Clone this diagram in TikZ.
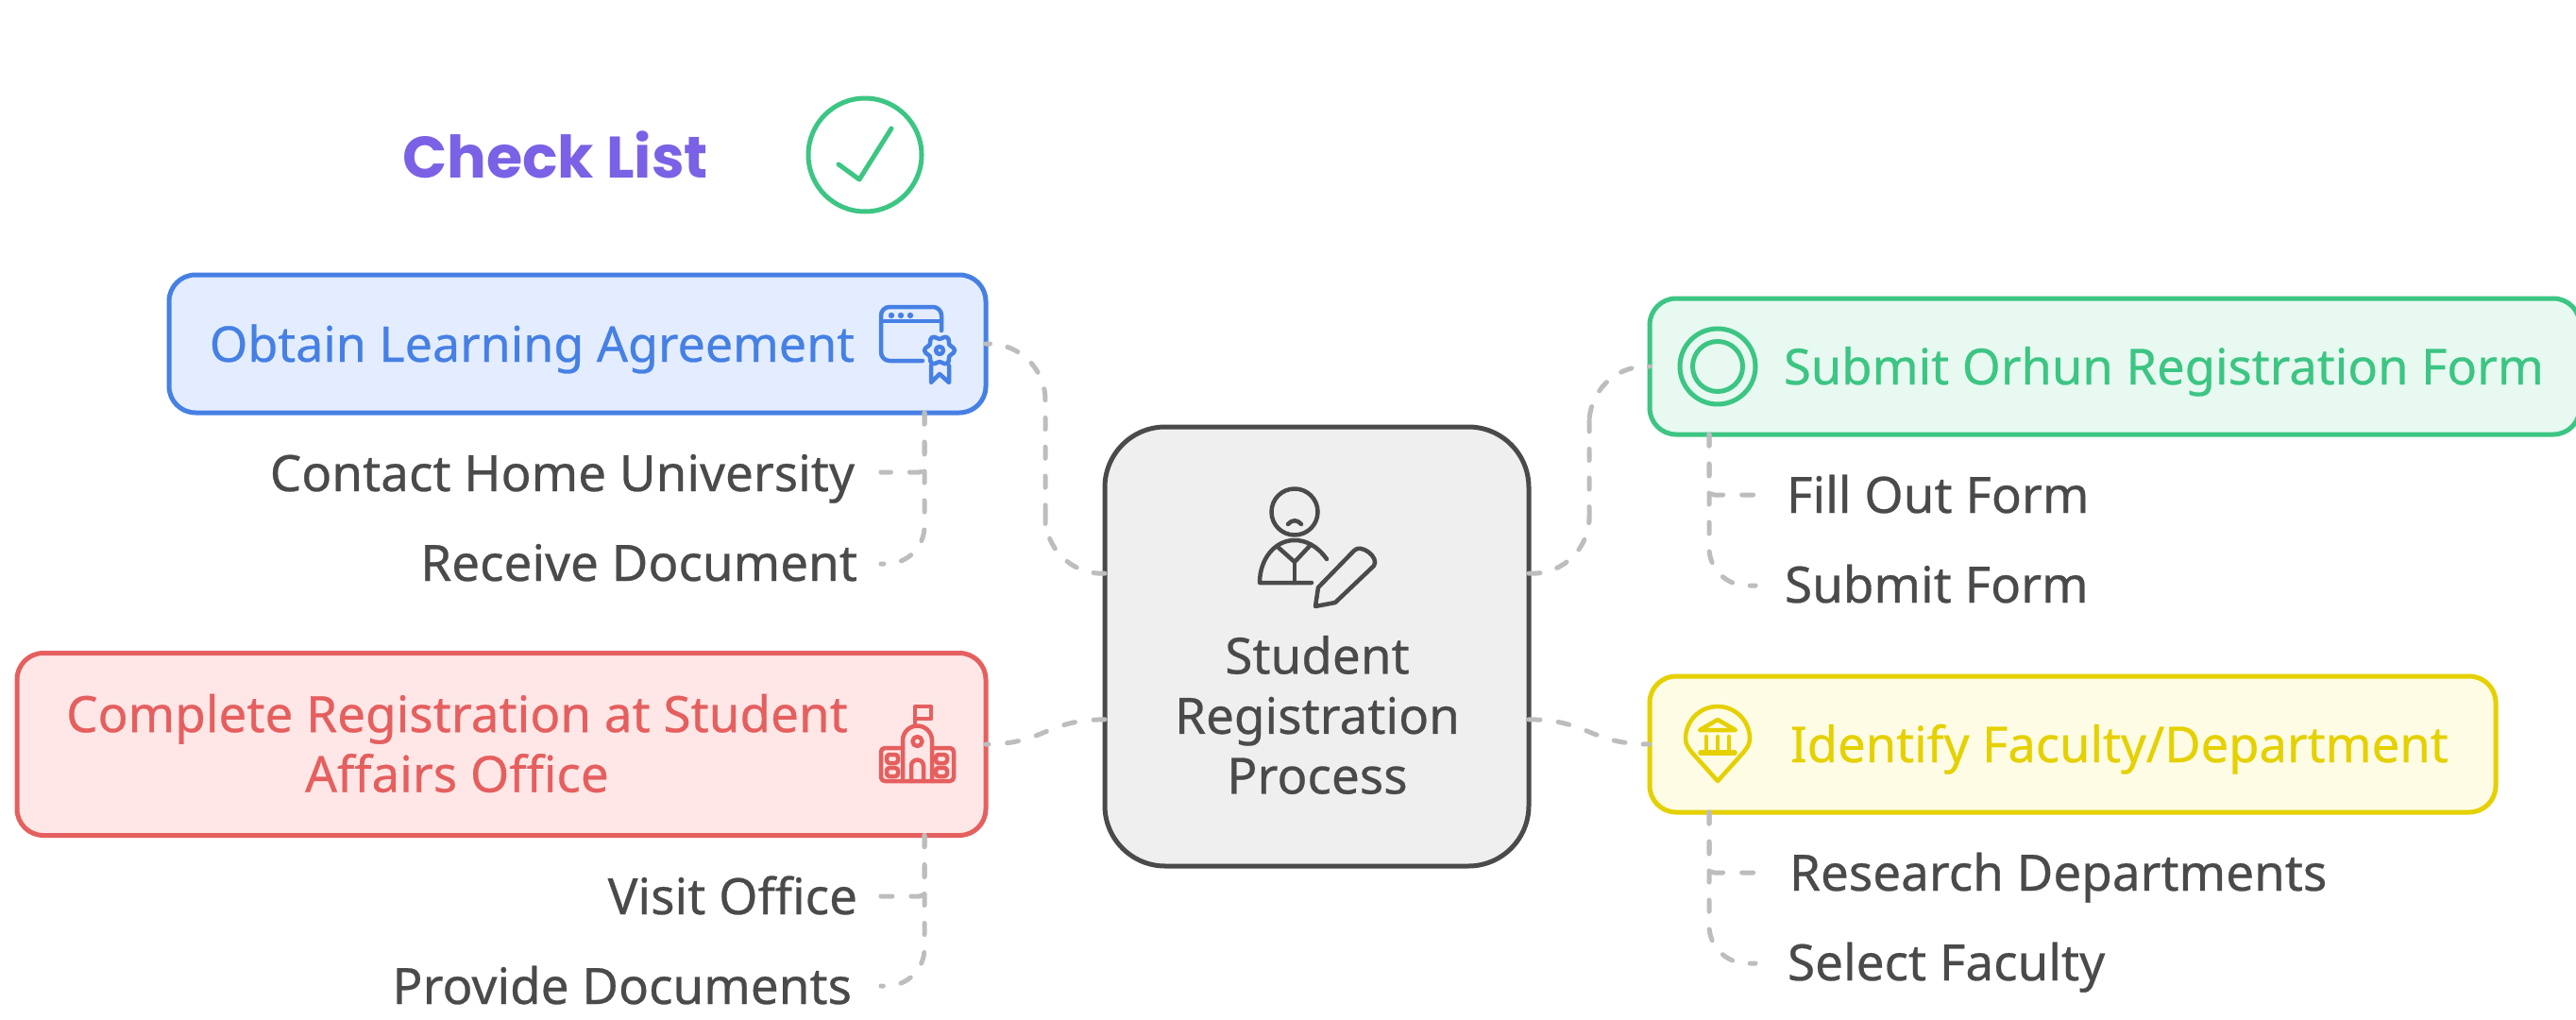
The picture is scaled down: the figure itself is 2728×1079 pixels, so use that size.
\documentclass[tikz,border=0pt]{standalone}
\usepackage{fontspec}
\setmainfont{Noto Sans}
\newfontfamily\chkfont{Poppins}
\newfontface\medfont[FakeBold=0.5]{Noto Sans}
\definecolor{cblue}{HTML}{4680E4}\definecolor{fblue}{HTML}{E3EDFF}
\definecolor{cred}{HTML}{E55F5F}\definecolor{fred}{HTML}{FEE7E6}
\definecolor{cgreen}{HTML}{3CC583}\definecolor{fgreen}{HTML}{E8F9F1}
\definecolor{cyel}{HTML}{E5D000}\definecolor{fyel}{HTML}{FEFCE5}
\definecolor{cgray}{HTML}{4A4A4A}\definecolor{fgray}{HTML}{EFEFEF}
\definecolor{cconn}{HTML}{BDBDBD}\definecolor{cpurple}{HTML}{7B61E5}
\tikzset{
  x=1pt,y=-1pt,
  boxstyle/.style={draw,line width=5pt,rounded corners=28pt,inner sep=0pt,outer sep=0pt},
  txt/.style={inner sep=0pt,outer sep=0pt,font=\medfont\fontsize{53}{63.5}\selectfont},
  txtb/.style={inner sep=0pt,outer sep=0pt,font=\medfont\fontsize{52.5}{63.5}\selectfont},
  lbl/.style={txt,text=cgray,anchor=base west},
  lbr/.style={txt,text=cgray,anchor=base east},
  conn/.style={draw=cconn,line width=5pt,line cap=round,dash pattern=on 12pt off 20pt},
  curvedbranch/.style={conn,rounded corners=40pt,dash pattern=on 12pt off 19pt},
  icon/.style={line width=4.5pt,line cap=round,line join=round},
}
\begin{document}
\begin{tikzpicture}
\useasboundingbox (0,0) rectangle (2728,1079);
\fill[white] (0,0) rectangle (2728,1079);
% boxes
\node[boxstyle,draw=cgray,fill=fgray,rounded corners=64pt,minimum width=449pt,minimum height=465pt] (center) at (1394.5,684.5) {};
\node[boxstyle,draw=cblue,fill=fblue,minimum width=865pt,minimum height=146pt] (blue) at (611.5,364) {};
\node[boxstyle,draw=cred,fill=fred,minimum width=1026pt,minimum height=193pt] (red) at (531,788) {};
\node[boxstyle,draw=cgreen,fill=fgreen,minimum width=985pt,minimum height=144pt] (green) at (2239.5,388) {};
\node[boxstyle,draw=cyel,fill=fyel,minimum width=896pt,minimum height=144pt] (yellow) at (2195,788) {};
% title
\node[anchor=base west,inner sep=0pt,text=cpurple,font=\chkfont\bfseries\fontsize{62}{70}\selectfont] (title) at (426,188) {Check List};
\node[circle,draw=cgreen,line width=5pt,minimum size=120pt,inner sep=0pt] (chk) at (916,164) {};
\draw[cgreen,line width=5pt,line cap=round,line join=round] (888,174) -- (910,190) -- (944,136);
% texts
\node[txt,text=cblue,anchor=base east,font=\medfont\fontsize{52}{63.5}\selectfont] (t1) at (905,383) {Obtain Learning Agreement};
\node[lbr] (t1a) at (905,520) {Contact Home University};
\node[lbr] (t1b) at (908,615) {Receive Document};
\node[txt,text=cred,align=center] (t2) at (484,787) {Complete Registration at Student\\Affairs Office};
\node[lbr] (t2a) at (908,968) {Visit Office};
\node[lbr] (t2b) at (902,1063) {Provide Documents};
\node[txtb,text=cgreen,anchor=base west] (t3) at (1889,407) {Submit Orhun Registration Form};
\node[lbl] (t3a) at (1892,543) {Fill Out Form};
\node[lbl] (t3b) at (1890,638) {Submit Form};
\node[txtb,text=cyel,anchor=base west] (t4) at (1896,807) {Identify Faculty/Department};
\node[lbl] (t4a) at (1895,943) {Research Departments};
\node[lbl] (t4b) at (1893,1038) {Select Faculty};
\node[txt,text=cgray,align=center] (tc) at (1395,757) {Student\\Registration\\Process};
% connector helpers
\coordinate (m1) at (1107,500);
\coordinate (m2) at (1683,500);
\coordinate (e1a) at (933,500);\coordinate (e1b) at (933,597);
\coordinate (e2a) at (933,949);\coordinate (e2b) at (933,1044);
\coordinate (e3a) at (1859,524);\coordinate (e3b) at (1859,620);
\coordinate (e4a) at (1859,924);\coordinate (e4b) at (1859,1020);
\coordinate (s1) at (979,437);\coordinate (s2) at (979,884.5);
\coordinate (s3) at (1810,460);\coordinate (s4) at (1810,860);
% main connectors
\draw[conn,rounded corners=60pt,dash pattern=on 12pt off 18.8pt] (center.161) -| (m1) |- (blue.east);
\draw[conn,rounded corners=60pt,dash pattern=on 12pt off 18.6pt] (center.19) -| (m2) |- (green.west);
\draw[conn,dash pattern=on 12pt off 19.7pt] (center.199) .. controls (1107,762) and (1107,788) .. (red.east);
\draw[conn,dash pattern=on 12pt off 19.2pt] (center.-19) .. controls (1683,762) and (1683,788) .. (yellow.west);
% branch connectors
\draw[conn,rounded corners=6pt] (s1) |- (e1a);
\draw[curvedbranch] (s1) |- (e1b);
\draw[conn,rounded corners=6pt] (s2) |- (e2a);
\draw[curvedbranch] (s2) |- (e2b);
\draw[conn,rounded corners=6pt] (s3) |- (e3a);
\draw[curvedbranch] (s3) |- (e3b);
\draw[conn,rounded corners=6pt] (s4) |- (e4a);
\draw[curvedbranch] (s4) |- (e4b);
% blue icon
\begin{scope}[icon,draw=cblue]
\draw[rounded corners=9pt] (977,382) -- (933,382) -- (933,325) -- (997,325) -- (997,350);
\draw (933,340) -- (997,340);
\fill[cblue] (944,334) circle (3.2) (954,334) circle (3.2) (964,334) circle (3.2);
\draw[smooth cycle] plot[domain=0:350,samples=36] ({995+(14+2*cos(6*\x))*cos(\x)},{371+(14+2*cos(6*\x))*sin(\x)});
\draw (995,371) circle (4);
\draw (986,387) -- (986,405) -- (995,396) -- (1005,405) -- (1005,387);
\end{scope}
% red icon
\begin{scope}[icon,draw=cred]
\draw (969,768) -- (969,748) -- (986,748) -- (986,761) -- (969,761);
\draw[rounded corners=4pt] (956,792) -- (933,792) -- (933,827) -- (1010,827) -- (1010,792) -- (987,792);
\draw (956,827) -- (956,784) arc[start angle=180,end angle=360,radius=15.5] -- (987,827);
\draw (971.5,785) circle (5);
\draw (965,827) -- (965,811) arc[start angle=180,end angle=360,radius=6.5] -- (978,827);
\draw[rounded corners=3pt] (939,799) rectangle (951,808);
\draw[rounded corners=3pt] (939,813) rectangle (951,822);
\draw[rounded corners=3pt] (991,799) rectangle (1003,808);
\draw[rounded corners=3pt] (991,813) rectangle (1003,822);
\end{scope}
% green icon
\node[circle,draw=cgreen,line width=5pt,minimum size=80pt,inner sep=0pt] (gi1) at (1819,388) {};
\node[circle,draw=cgreen,line width=5pt,minimum size=53pt,inner sep=0pt] (gi2) at (1819,388) {};
% yellow icon
\begin{scope}[icon,draw=cyel]
\draw (1819,827) -- (1792,797) .. controls (1788,792) and (1785,788) .. (1785,782) arc[start angle=180,end angle=360,radius=34] .. controls (1853,788) and (1850,792) .. (1846,797) -- cycle;
\draw (1800,773) -- (1819,762) -- (1838,773) -- cycle;
\draw (1807,780) -- (1807,795) (1819,780) -- (1819,795) (1831,780) -- (1831,795);
\draw[line width=5.5pt] (1801,797) -- (1837,797);
\end{scope}
% center icon
\begin{scope}[icon,draw=cgray]
\draw (1371,542) circle (24.5);
\draw (1364,555) .. controls (1368,550) and (1374,550) .. (1378,555);
\draw (1405,592) .. controls (1395,578) and (1383,572) .. (1371,572) .. controls (1350,572) and (1334,592) .. (1334,617) -- (1389,617);
\draw (1353,579) -- (1371,595) -- (1387,578);
\draw (1371,595) -- (1371,617);
\draw (1396,622) -- (1434,583) .. controls (1441,575) and (1461,590) .. (1455,599) -- (1414,638) -- (1393,642) -- cycle;
\end{scope}
\end{tikzpicture}
\end{document}
